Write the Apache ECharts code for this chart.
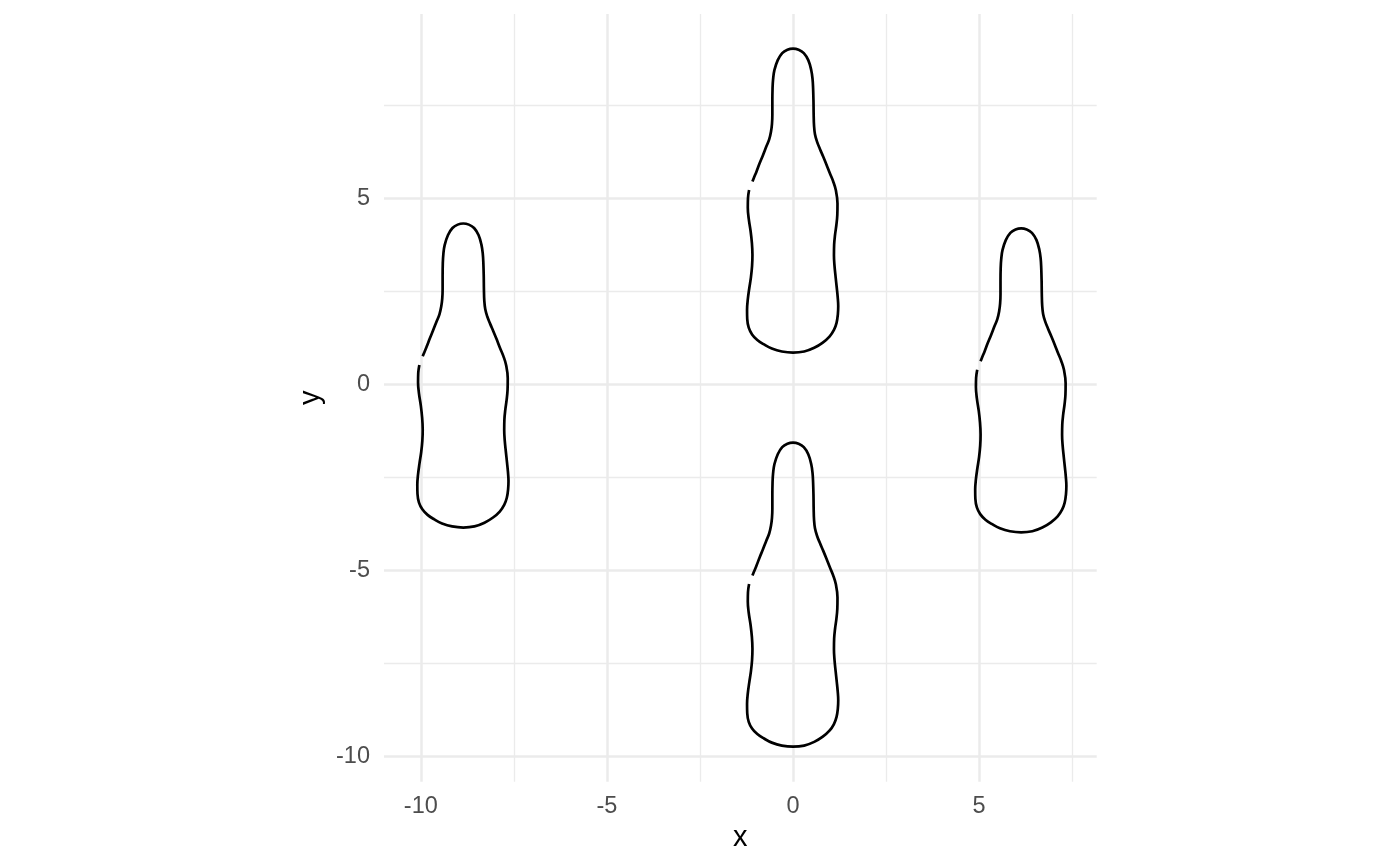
<!DOCTYPE html>
<html>
<head>
<meta charset="utf-8">
<script src="https://cdn.jsdelivr.net/npm/echarts@6/dist/echarts.min.js"></script>
<style>
  html, body { margin: 0; padding: 0; background: #ffffff; }
  #chart { width: 1400px; height: 866px; }
</style>
</head>
<body>
<div id="chart"></div>
<script>
// Bottle outline (read from the top-centre bottle), open path: starts just below the gap on the left side,
// runs down the left side, across the bottom, up the right side, over the top and down to the gap.
const outlineX = [
  -1.18, -1.21, -1.215, -1.19, -1.14, -1.105, -1.09, -1.10, -1.13, -1.175,
  -1.215, -1.235, -1.23, -1.19, -1.10, -0.96, -0.78, -0.57, -0.30, 0.00,
  0.30, 0.57, 0.80, 0.98, 1.10, 1.17, 1.205, 1.215, 1.20, 1.175,
  1.145, 1.115, 1.10, 1.105, 1.13, 1.165, 1.19, 1.195, 1.15, 1.08,
  0.99, 0.90, 0.81, 0.72, 0.645, 0.59, 0.565, 0.555, 0.55, 0.54,
  0.525, 0.49, 0.41, 0.29, 0.15, 0.00, -0.15, -0.29, -0.41, -0.50,
  -0.535, -0.55, -0.555, -0.555, -0.565, -0.59, -0.64, -0.72, -0.81, -0.90,
  -0.98, -1.05, -1.09
];
const outlineY = [
  5.22, 5.00, 4.75, 4.45, 4.12, 3.80, 3.48, 3.18, 2.88, 2.58,
  2.28, 2.00, 1.75, 1.52, 1.34, 1.19, 1.07, 0.96, 0.88, 0.85,
  0.88, 0.98, 1.12, 1.28, 1.46, 1.65, 1.88, 2.10, 2.35, 2.60,
  2.88, 3.18, 3.47, 3.75, 4.02, 4.28, 4.55, 4.86, 5.22, 5.45,
  5.67, 5.90, 6.12, 6.33, 6.52, 6.72, 6.95, 7.25, 7.60, 7.95,
  8.20, 8.44, 8.71, 8.90, 8.99, 9.02, 8.99, 8.90, 8.71, 8.44,
  8.20, 7.95, 7.60, 7.25, 7.00, 6.80, 6.58, 6.38, 6.15, 5.93,
  5.72, 5.55, 5.45
];
// Position shift of each bottle relative to the outline above
const bottleNames = ['left', 'top', 'bottom', 'right'];
const shiftX = [-8.86, 0.00, 0.00, 6.13];
const shiftY = [-4.70, 0.00, -10.59, -4.83];

// Axis settings
const xRange = [-10.99, 8.16];
const yRange = [-10.68, 9.95];

const series = bottleNames.map((name, i) => ({
  name: name,
  type: 'line',
  showSymbol: false,
  symbol: 'none',
  smooth: 0.4,
  animation: false,
  lineStyle: { color: '#000000', width: 2.7 },
  data: outlineX.map((x, k) => [x + shiftX[i], outlineY[k] + shiftY[i]])
}));

const font = 'Liberation Sans, Arial, sans-serif';
const chart = echarts.init(document.getElementById('chart'), null, { renderer: 'canvas' });
chart.setOption({
  backgroundColor: '#ffffff',
  animation: false,
  grid: { left: 384, right: 303.3, top: 14, bottom: 84.3, containLabel: false },
  xAxis: {
    type: 'value',
    min: xRange[0], max: xRange[1],
    splitNumber: 4,
    name: 'x',
    nameLocation: 'middle',
    nameGap: 38,
    nameTextStyle: { color: '#000000', fontSize: 29, fontFamily: font },
    axisLine: { show: false },
    axisTick: { show: false },
    axisLabel: { color: '#4d4d4d', fontSize: 23.5, fontFamily: font, margin: 12.5, showMinLabel: false, showMaxLabel: false },
    splitLine: { show: true, showMinLine: false, showMaxLine: false, lineStyle: { color: '#ebebeb', width: 2.5 } },
    minorTick: { show: false, splitNumber: 2 },
    minorSplitLine: { show: true, lineStyle: { color: '#ebebeb', width: 1.3 } }
  },
  yAxis: {
    type: 'value',
    min: yRange[0], max: yRange[1],
    splitNumber: 4,
    name: 'y',
    nameLocation: 'middle',
    nameRotate: 90,
    nameGap: 52,
    nameTextStyle: { color: '#000000', fontSize: 29, fontFamily: font },
    axisLine: { show: false },
    axisTick: { show: false },
    axisLabel: { color: '#4d4d4d', fontSize: 23.5, fontFamily: font, margin: 14, showMinLabel: false, showMaxLabel: false },
    splitLine: { show: true, showMinLine: false, showMaxLine: false, lineStyle: { color: '#ebebeb', width: 2.5 } },
    minorTick: { show: false, splitNumber: 2 },
    minorSplitLine: { show: true, lineStyle: { color: '#ebebeb', width: 1.3 } }
  },
  series: series
});
</script>
</body>
</html>
